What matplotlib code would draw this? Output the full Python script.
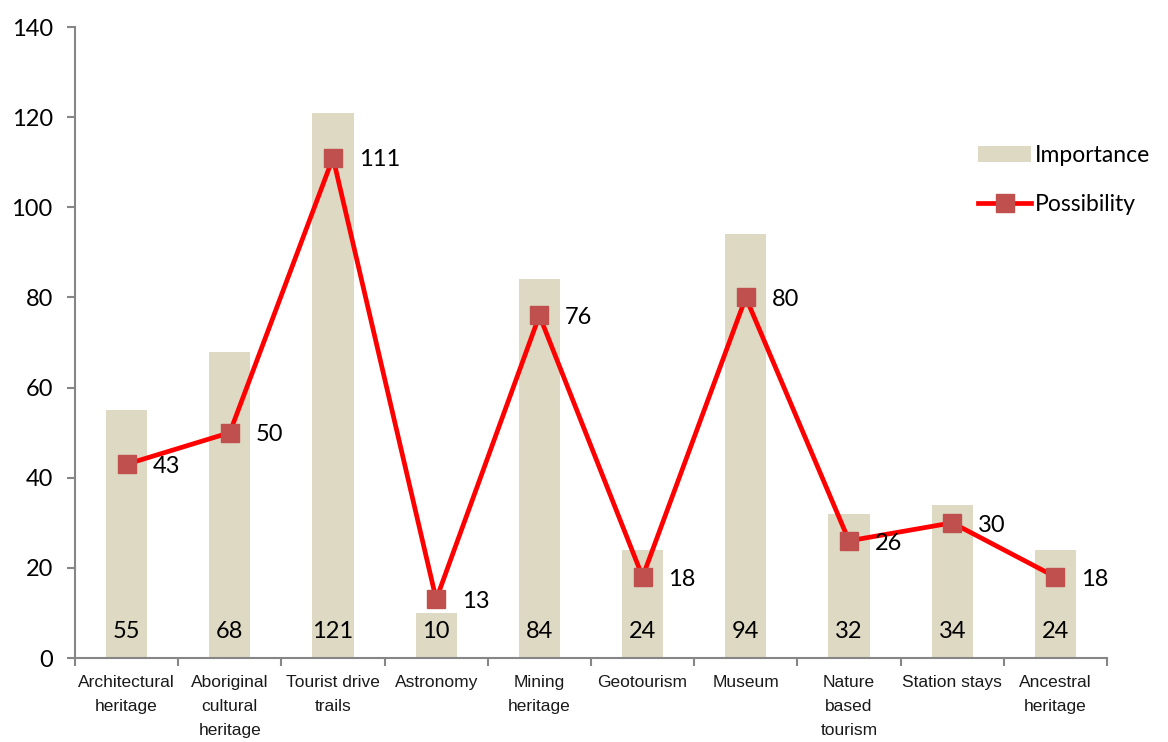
import matplotlib
matplotlib.use("Agg")
import matplotlib.pyplot as plt
from matplotlib.lines import Line2D
from matplotlib.patches import Patch
import numpy as np

categories = ["Architectural\nheritage", "Aboriginal\ncultural\nheritage", "Tourist drive\ntrails",
              "Astronomy", "Mining\nheritage", "Geotourism", "Museum", "Nature\nbased\ntourism",
              "Station stays", "Ancestral\nheritage"]
importance = [55, 68, 121, 10, 84, 24, 94, 32, 34, 24]
possibility = [43, 50, 111, 13, 76, 18, 80, 26, 30, 18]
yticks = [0, 20, 40, 60, 80, 100, 120, 140]

fig = plt.figure(figsize=(11.68, 7.42), dpi=100)
ax = fig.add_axes([0.0642, 0.1132, 0.8836, 0.8504])

x = np.arange(len(categories))
ax.bar(x, importance, width=0.4, color="#DDD9C3", zorder=1)
ax.plot(x, possibility, color="#FF0000", lw=3.4, marker="s", markersize=13,
        markerfacecolor="#C0504D", markeredgecolor="#C0504D", zorder=3)

lab_font = dict(family=["Lato", "DejaVu Sans"], fontsize=17, color="black")
for xi, v in zip(x, importance):
    ax.text(xi, 5.8, str(v), ha="center", va="center", zorder=4, **lab_font)
for xi, v in zip(x, possibility):
    ax.text(xi + 0.25, v - 0.5, str(v), ha="left", va="center", zorder=4, **lab_font)

ax.set_xlim(-0.5, len(categories) - 0.5)
ax.set_ylim(0, 140)
ax.set_yticks(yticks)
ax.set_yticklabels([str(t) for t in yticks], family=["Lato", "DejaVu Sans"], fontsize=17)
ax.set_xticks(x)
ax.set_xticklabels(categories, family=["Liberation Sans", "DejaVu Sans"], fontsize=12.5,
                   linespacing=1.75, va="top", color="#1a1a1a")
ax.tick_params(axis="x", which="major", length=0, pad=12)
ax.set_xticks(np.arange(-0.5, len(categories)), minor=True)
ax.tick_params(axis="x", which="minor", length=6, width=1.5, color="#868686", direction="out")
ax.tick_params(axis="y", length=6, width=1.5, color="#868686", direction="out", pad=10)

for s in ["top", "right"]:
    ax.spines[s].set_visible(False)
for s in ["left", "bottom"]:
    ax.spines[s].set_color("#868686")
    ax.spines[s].set_linewidth(1.5)

handles = [Patch(facecolor="#DDD9C3", edgecolor="none"),
           Line2D([], [], color="#FF0000", lw=3.4, marker="s", markersize=13,
                  markerfacecolor="#C0504D", markeredgecolor="#C0504D")]
leg = ax.legend(handles, ["Importance", "Possibility"], loc="upper left",
                bbox_to_anchor=(0.8665, 0.828), frameon=False,
                prop=dict(family=["Lato", "DejaVu Sans"], size=16.5),
                handlelength=2.3, handletextpad=0.15, labelspacing=1.25, borderaxespad=0)

fig.savefig("out.png", dpi=100)
